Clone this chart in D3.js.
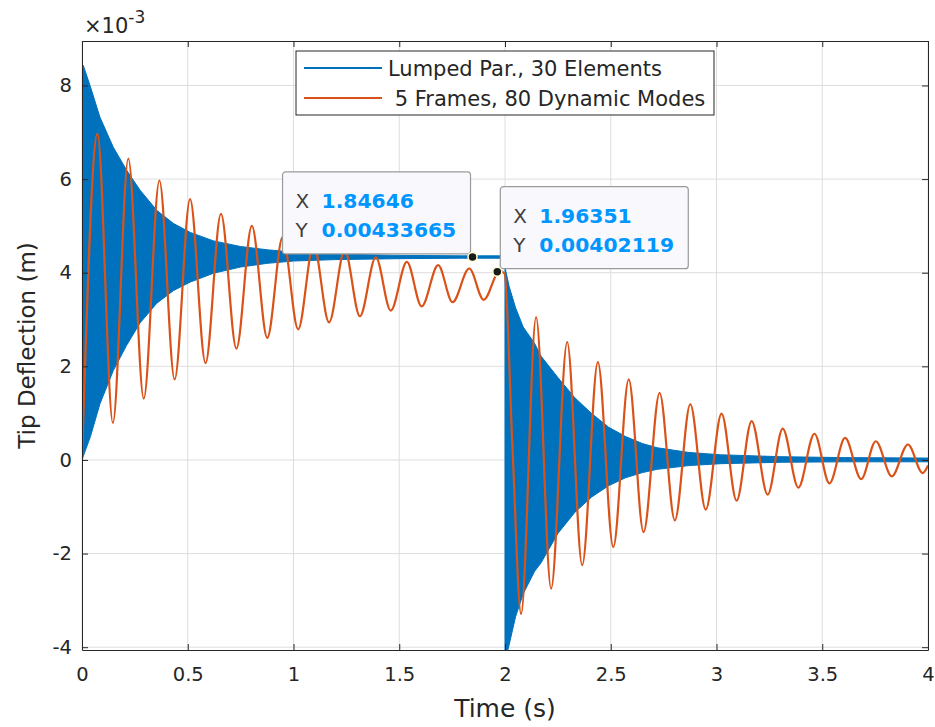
<!DOCTYPE html>
<html>

<head>
  <meta charset="utf-8">
  <title>Tip Deflection</title>
  <style>
    body { margin: 0; background: #fff; }
    text { font-family: "DejaVu Sans", "Liberation Sans", Arial, sans-serif; }
  </style>
</head>

<body>

  <svg id="main" width="935" height="727"></svg>

  <script src="https://cdn.jsdelivr.net/npm/d3@7"></script>
  <script>

    // axis ticks (y values are in units of 1e-3 m)
    const xTicks = [0, 0.5, 1, 1.5, 2, 2.5, 3, 3.5, 4]
    const xTickLabels = ['0', '0.5', '1', '1.5', '2', '2.5', '3', '3.5', '4']
    const yTicks = [-4, -2, 0, 2, 4, 6, 8]
    const yTickLabels = ['-4', '-2', '0', '2', '4', '6', '8']

    const seriesNames = ['Lumped Par., 30 Elements', ' 5 Frames, 80 Dynamic Modes']

    // lumped model: fast oscillation shows as a band, envelope
    const lumpedTimeA = [0, 0.006, 0.04, 0.085, 0.148, 0.211, 0.275, 0.354, 0.433, 0.512, 0.622, 0.749, 0.875, 1.0, 1.2, 1.5, 1.8, 2.0]
    const lumpedUpperA = [8.45, 8.43, 7.97, 7.32, 6.68, 6.19, 5.76, 5.33, 5.05, 4.86, 4.68, 4.56, 4.49, 4.44, 4.40, 4.37, 4.36, 4.36]
    const lumpedLowerA = [0.0, 0.08, 0.5, 1.2, 1.91, 2.45, 2.93, 3.35, 3.62, 3.80, 3.99, 4.12, 4.20, 4.25, 4.28, 4.30, 4.31, 4.31]

    const lumpedTimeB = [2.0, 2.003, 2.02, 2.05, 2.086, 2.14, 2.17, 2.25, 2.33, 2.41, 2.49, 2.57, 2.65, 2.72, 2.87, 3.02, 3.3, 3.6, 4.0]
    const lumpedUpperB = [4.34, 4.05, 3.7, 3.25, 2.84, 2.49, 2.22, 1.76, 1.33, 0.99, 0.70, 0.50, 0.35, 0.26, 0.16, 0.11, 0.07, 0.05, 0.04]
    const lumpedLowerB = [-4.3, -4.25, -3.94, -3.35, -2.86, -2.38, -2.2, -1.57, -1.12, -0.79, -0.55, -0.38, -0.27, -0.20, -0.12, -0.08, -0.05, -0.04, -0.04]

    // modal model: peaks and troughs
    const framesTime = [0, 0.073, 0.146, 0.219, 0.292, 0.366, 0.438, 0.511, 0.584, 0.657,
      0.730, 0.803, 0.876, 0.949, 1.022, 1.095, 1.168, 1.242, 1.314, 1.389,
      1.460, 1.536, 1.606, 1.684, 1.752, 1.831, 1.899, 1.975, 1.998, 2.035,
      2.076, 2.147, 2.218, 2.294, 2.365, 2.439, 2.512, 2.585, 2.655, 2.731,
      2.803, 2.876, 2.949, 3.024, 3.095, 3.166, 3.242, 3.313, 3.387, 3.463,
      3.534, 3.608, 3.684, 3.753, 3.829, 3.905, 3.975, 4.0]
    const framesValue = [0, 6.97, 0.79, 6.44, 1.31, 5.97, 1.72, 5.57, 2.07, 5.26,
      2.38, 5.00, 2.61, 4.76, 2.79, 4.60, 2.94, 4.48, 3.07, 4.33,
      3.19, 4.23, 3.28, 4.16, 3.37, 4.09, 3.42, 4.04, 3.98, 0.3,
      -3.29, 3.05, -2.75, 2.52, -2.25, 2.09, -1.86, 1.72, -1.54, 1.43,
      -1.29, 1.19, -1.06, 0.99, -0.87, 0.83, -0.74, 0.67, -0.59, 0.56,
      -0.50, 0.47, -0.41, 0.40, -0.35, 0.33, -0.28, -0.12]

    // data tips (metres)
    const tipX = [1.84646, 1.96351]
    const tipY = [0.00433665, 0.00402119]
    const tipXText = ['1.84646', '1.96351']
    const tipYText = ['0.00433665', '0.00402119']

    const svg = d3.select('#main')
    const margin = { top: 41, right: 7, bottom: 77, left: 82 }
    const width = +svg.attr('width')
    const height = +svg.attr('height')
    const innerWidth = width - margin.left - margin.right
    const innerHeight = height - margin.top - margin.bottom

    const colors = { lumped: '#0072bd', frames: '#d95319', axis: '#262626', grid: '#dedede', tip: '#0096ff' }
    const font = '"DejaVu Sans", "Liberation Sans", Arial, sans-serif'

    const chart = svg.append('g')
      .attr('transform', `translate(${margin.left},${margin.top})`)
      .attr('fill', colors.axis)

    const xScale = d3.scaleLinear().domain([0, 4]).range([0, innerWidth])
    const yScale = d3.scaleLinear().domain([-4.06, 8.95]).range([innerHeight, 0])

    // grid
    chart.append('g').selectAll('line').data(xTicks).join('line')
      .attr('x1', d => xScale(d)).attr('x2', d => xScale(d))
      .attr('y1', 0).attr('y2', innerHeight)
      .attr('stroke', colors.grid)
    chart.append('g').selectAll('line').data(yTicks).join('line')
      .attr('y1', d => yScale(d)).attr('y2', d => yScale(d))
      .attr('x1', 0).attr('x2', innerWidth)
      .attr('stroke', colors.grid)

    svg.append('clipPath').attr('id', 'plotclip')
      .append('rect').attr('width', innerWidth).attr('height', innerHeight)

    const plot = chart.append('g').attr('clip-path', 'url(#plotclip)')

    const band = d3.area()
      .x(d => xScale(d[0]))
      .y0(d => yScale(d[2]))
      .y1(d => yScale(d[1]))

    const segA = lumpedTimeA.map((t, i) => [t, lumpedUpperA[i], lumpedLowerA[i]])
    const segB = lumpedTimeB.map((t, i) => [t, lumpedUpperB[i], lumpedLowerB[i]])
    ;[segA, segB].forEach(seg => {
      plot.append('path')
        .datum(seg)
        .attr('fill', colors.lumped)
        .attr('stroke', colors.lumped)
        .attr('stroke-width', 1)
        .attr('d', band)
    })

    const line = d3.line()
      .curve(d3.curveMonotoneX)
      .x(d => xScale(d[0]))
      .y(d => yScale(d[1]))

    plot.append('path')
      .datum(framesTime.map((t, i) => [t, framesValue[i]]))
      .attr('fill', 'none')
      .attr('stroke', colors.frames)
      .attr('stroke-width', 2.2)
      .attr('stroke-linejoin', 'round')
      .attr('d', line)

    // axes (ticks pointing inward, like matlab)
    const xAxis = d3.axisBottom(xScale).tickValues(xTicks)
      .tickFormat((d, i) => xTickLabels[i]).tickSizeInner(-6).tickSizeOuter(0).tickPadding(17)
    const yAxis = d3.axisLeft(yScale).tickValues(yTicks)
      .tickFormat((d, i) => yTickLabels[i]).tickSizeInner(-6).tickSizeOuter(0).tickPadding(10)

    chart.append('g').attr('transform', `translate(0,${innerHeight})`).call(xAxis)
    chart.append('g').call(yAxis)
    chart.append('g').call(d3.axisTop(xScale).tickValues(xTicks).tickSizeInner(-6).tickSizeOuter(0))
      .call(g => g.selectAll('text').remove())
    chart.append('g').attr('transform', `translate(${innerWidth},0)`)
      .call(d3.axisRight(yScale).tickValues(yTicks).tickSizeInner(-6).tickSizeOuter(0))
      .call(g => g.selectAll('text').remove())

    chart.selectAll('.domain').attr('stroke', colors.axis)
    chart.selectAll('.tick line').attr('stroke', colors.axis)
    chart.selectAll('.tick text')
      .attr('font-size', '19.5px')
      .attr('font-family', font)
      .attr('fill', colors.axis)

    // exponent label
    const expo = chart.append('text').attr('x', 2).attr('y', -8).attr('font-size', '21px')
    expo.append('tspan').text('\u00d710')
    expo.append('tspan').attr('dy', -10).attr('font-size', '17px').text('-3')

    // axis titles
    chart.append('text')
      .attr('x', innerWidth / 2).attr('y', innerHeight + 67)
      .attr('text-anchor', 'middle').attr('font-size', '25px')
      .text('Time (s)')
    chart.append('text')
      .attr('transform', `translate(-47,${innerHeight / 2}) rotate(-90)`)
      .attr('text-anchor', 'middle').attr('font-size', '23px')
      .text('Tip Deflection (m)')

    // legend
    const legend = chart.append('g').attr('transform', `translate(${296 - margin.left},${51 - margin.top})`)
    legend.append('rect').attr('width', 418).attr('height', 64)
      .attr('fill', '#fff').attr('stroke', colors.axis)
    ;[colors.lumped, colors.frames].forEach((c, i) => {
      legend.append('line').attr('x1', 8).attr('x2', 86)
        .attr('y1', 17 + i * 30).attr('y2', 17 + i * 30)
        .attr('stroke', c).attr('stroke-width', 2)
      legend.append('text').attr('x', 92).attr('y', 25 + i * 30)
        .attr('font-size', '21px').style('white-space', 'pre')
        .text(seriesNames[i])
    })

    // data tips
    const tips = chart.append('g')
    tipX.forEach((tx, i) => {
      const px = xScale(tx)
      const py = yScale(tipY[i] * 1000)
      const bw = 188, bh = 82
      const bx = i === 0 ? px - bw - 2 : px + 3
      const by = py - bh - 3
      const g = tips.append('g').attr('transform', `translate(${bx},${by})`)
      g.append('rect').attr('width', bw).attr('height', bh).attr('rx', 3)
        .attr('fill', '#f9f9fd').attr('stroke', '#9a9a9a').attr('stroke-width', 1.2)
      ;[['X', tipXText[i]], ['Y', tipYText[i]]].forEach((row, j) => {
        const yy = 36 + j * 29
        g.append('text').attr('x', 13).attr('y', yy).attr('font-size', '20px')
          .attr('fill', '#404040').text(row[0])
        g.append('text').attr('x', 39).attr('y', yy).attr('font-size', '20.3px')
          .attr('fill', colors.tip).attr('font-weight', 'bold').text(row[1])
      })
      tips.append('circle').attr('cx', px).attr('cy', py).attr('r', 4.5)
        .attr('fill', '#1a1a1a').attr('stroke', '#ffffd0').attr('stroke-width', 1.5)
    })

  </script>
</body>

</html>
